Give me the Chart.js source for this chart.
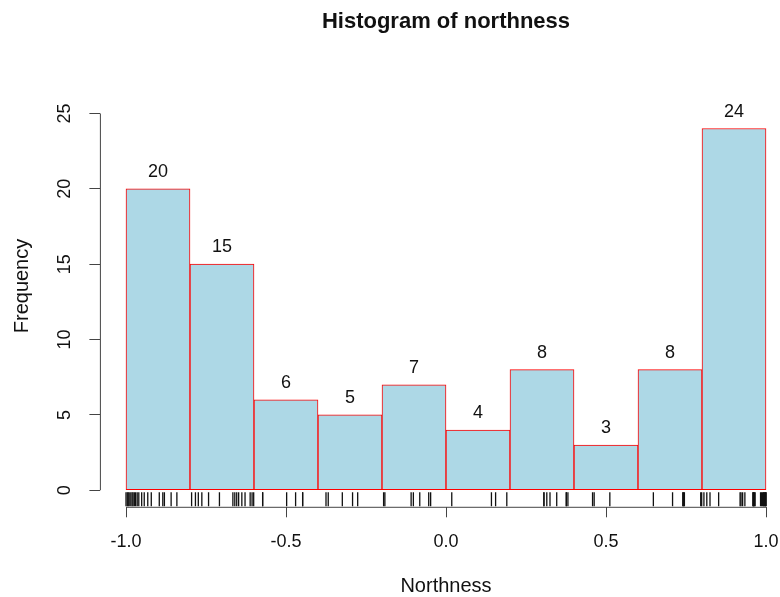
<!DOCTYPE html>
<html>
<head>
<meta charset="utf-8">
<script src="https://cdn.jsdelivr.net/npm/chart.js@4.4.1/dist/chart.umd.min.js"></script>
<style>
  html, body { margin: 0; padding: 0; background: #fff; }
  #wrap { width: 780px; height: 597px; }
</style>
</head>
<body>
<div id="wrap"><canvas id="hist"></canvas></div>
<script>
// histogram bins and counts
const breaks = [-1.0, -0.8, -0.6, -0.4, -0.2, 0.0, 0.2, 0.4, 0.6, 0.8, 1.0];
const counts = [20, 15, 6, 5, 7, 4, 8, 3, 8, 24];

// rug of the raw northness values
const rugValues = [
  -1.000, -0.996, -0.993, -0.990, -0.985, -0.981, -0.978, -0.974, -0.970, -0.965,
  -0.960, -0.951, -0.943, -0.932, -0.921, -0.896, -0.885, -0.880, -0.859, -0.841,
  -0.795, -0.783, -0.774, -0.763, -0.742, -0.708, -0.666, -0.660, -0.654, -0.648,
  -0.638, -0.628, -0.612, -0.606, -0.601,
  -0.573, -0.573, -0.498, -0.470, -0.448, -0.448,
  -0.375, -0.368, -0.324, -0.292, -0.276,
  -0.195, -0.191, -0.109, -0.102, -0.082, -0.054, -0.048,
  0.018, 0.142, 0.155, 0.190,
  0.306, 0.306, 0.315, 0.325, 0.346, 0.376, 0.376, 0.381,
  0.458, 0.463, 0.512,
  0.648, 0.708, 0.740, 0.741, 0.743, 0.745, 0.796, 0.799,
  0.806, 0.815, 0.825, 0.852, 0.919, 0.922, 0.927, 0.934, 0.959, 0.960,
  0.961, 0.962, 0.964, 0.966, 0.983, 0.986, 0.989, 0.992, 0.993, 0.995,
  0.997, 0.998, 1.000, 1.000
];

const xTicks = [-1.0, -0.5, 0.0, 0.5, 1.0];
const yTicks = [0, 5, 10, 15, 20, 25];

const titleText = 'Histogram of northness';
const xLabel = 'Northness';
const yLabel = 'Frequency';

const FONT = '"Liberation Sans", Arial, sans-serif';
const rugY = -0.6;

const barData = counts.map((c, i) => ({ x: (breaks[i] + breaks[i + 1]) / 2, y: c }));
const rugData = rugValues.map((v) => ({ x: v, y: rugY }));

// R-style decorations: axis lines limited to tick range, titles, counts over bars
const rDecor = {
  id: 'rDecor',
  afterDatasetsDraw(chart) {
    const c = chart.ctx;
    const xs = chart.scales.x;
    const ys = chart.scales.y;
    const area = chart.chartArea;

    c.save();
    c.strokeStyle = '#444';
    c.lineWidth = 1;
    c.beginPath();
    c.moveTo(area.left, ys.getPixelForValue(yTicks[0]));
    c.lineTo(area.left, ys.getPixelForValue(yTicks[yTicks.length - 1]));
    c.moveTo(xs.getPixelForValue(xTicks[0]), area.bottom);
    c.lineTo(xs.getPixelForValue(xTicks[xTicks.length - 1]), area.bottom);
    c.stroke();

    // counts above bars
    c.fillStyle = '#111';
    c.font = '18px ' + FONT;
    c.textAlign = 'center';
    c.textBaseline = 'middle';
    chart.getDatasetMeta(0).data.forEach((bar, i) => {
      c.fillText(String(counts[i]), bar.x, bar.y - 17);
    });

    const midX = xs.getPixelForValue(0);
    c.font = 'bold 22px ' + FONT;
    c.fillText(titleText, midX, 22);

    c.font = '20px ' + FONT;
    c.fillText(xLabel, midX, 586);

    c.translate(22, 286);
    c.rotate(-Math.PI / 2);
    c.fillText(yLabel, 0, 0);
    c.restore();
  }
};

new Chart(document.getElementById('hist').getContext('2d'), {
  data: {
    datasets: [
      {
        type: 'bar',
        data: barData,
        backgroundColor: '#ADD8E6',
        borderColor: '#FF0000',
        borderWidth: 1,
        borderSkipped: false,
        barPercentage: 1,
        categoryPercentage: 1,
      },
      {
        type: 'scatter',
        data: rugData,
        pointStyle: 'line',
        rotation: 90,
        radius: 7,
        borderColor: '#111',
        borderWidth: 1.3,
      },
    ],
  },
  options: {
    responsive: true,
    maintainAspectRatio: false,
    animation: false,
    events: [],
    layout: { autoPadding: false, padding: { top: 98.4, right: 1.2, left: 0, bottom: 0 } },
    plugins: {
      legend: { display: false },
      tooltip: { enabled: false },
    },
    scales: {
      x: {
        type: 'linear',
        min: -1.08,
        max: 1.04,
        offset: false,
        afterBuildTicks: (s) => { s.ticks = xTicks.map((v) => ({ value: v })); },
        afterFit: (s) => { s.height = 89.7; s.paddingLeft = 0; s.paddingRight = 0; },
        grid: { display: true, offset: false, drawOnChartArea: false, drawTicks: true, tickLength: 10, color: '#444' },
        border: { display: false },
        ticks: {
          maxRotation: 0,
          autoSkip: false,
          padding: 14,
          color: '#111',
          font: { family: FONT, size: 18 },
          callback: (v) => Number(v).toFixed(1),
        },
      },
      y: {
        type: 'linear',
        min: -1.13,
        max: 26,
        afterBuildTicks: (s) => { s.ticks = yTicks.map((v) => ({ value: v })); },
        afterFit: (s) => { s.width = 100.4; s.paddingTop = 0; s.paddingBottom = 0; },
        grid: { display: true, offset: false, drawOnChartArea: false, drawTicks: true, tickLength: 11, color: '#444' },
        border: { display: false },
        ticks: {
          minRotation: 90,
          maxRotation: 90,
          crossAlign: 'center',
          padding: 14,
          color: '#111',
          font: { family: FONT, size: 18 },
        },
      },
    },
  },
  plugins: [rDecor],
});
</script>
</body>
</html>
